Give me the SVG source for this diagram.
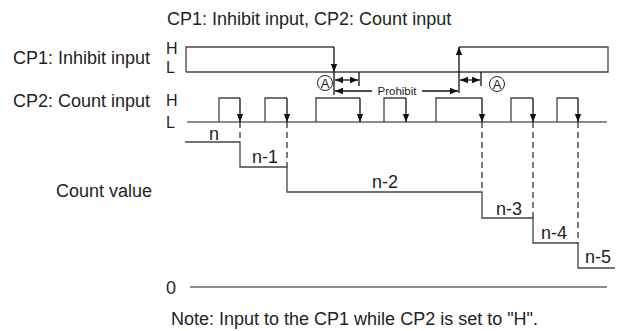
<svg xmlns="http://www.w3.org/2000/svg" width="619" height="331" viewBox="0 0 619 331">
<defs>
<marker id="ah" viewBox="0 0 10 10" refX="10" refY="5" markerWidth="8" markerHeight="8" markerUnits="userSpaceOnUse" orient="auto-start-reverse">
<path d="M0,1 L10,5 L0,9 Z" fill="#111"/>
</marker>
<style>
.t{font-family:"Liberation Sans",Arial,sans-serif;font-size:18px;fill:#222}
.hl{font-family:"Liberation Sans",Arial,sans-serif;font-size:16px;fill:#222}
.s{font-family:"Liberation Sans",Arial,sans-serif;font-size:11.5px;fill:#222}
.a{font-family:"Liberation Sans",Arial,sans-serif;font-size:13px;fill:#222}
.ln{fill:none;stroke:#444;stroke-width:1.3}
.g{fill:none;stroke:#666;stroke-width:1.3}
.ar{fill:none;stroke:#111;stroke-width:1.3}
.d{fill:none;stroke:#222;stroke-width:1.2;stroke-dasharray:6,4}
</style>
</defs>
<rect width="619" height="331" fill="#fff"/>
<g id="title"><text class="t" x="167" y="25">CP1: Inhibit input, CP2: Count input</text></g>
<g id="cp1">
<text class="t" x="13" y="64">CP1: Inhibit input</text>
<text class="hl" x="166" y="54">H</text>
<text class="hl" x="166" y="73">L</text>
<path class="ln" d="M186,72 V47 H334"/>
<path class="ln" d="M186,72 H608 V47 H459"/>
</g>
<g id="cp2">
<text class="t" x="13" y="107">CP2: Count input</text>
<text class="hl" x="166" y="106">H</text>
<text class="hl" x="166" y="128">L</text>
<path class="g" d="M187,122 H607"/>
<path class="ln" d="M219,122 V98 H240 M265,122 V98 H287 M316,122 V98 H360 M384,122 V98 H406 M436,122 V98 H482 M511,122 V98 H533 M557,122 V98 H578"/>
</g>
<g id="count">
<text class="t" x="56" y="197">Count value</text>
<path class="ln" d="M185,142 H240 V167 H287 V192 H482 V218 H533 V243 H578 V268 H615"/>
<text class="t" x="214" y="140" text-anchor="middle">n</text>
<text class="t" x="265" y="163" text-anchor="middle">n-1</text>
<text class="t" x="385" y="188" text-anchor="middle">n-2</text>
<text class="t" x="509" y="215" text-anchor="middle">n-3</text>
<text class="t" x="554" y="239" text-anchor="middle">n-4</text>
<text class="t" x="598" y="263" text-anchor="middle">n-5</text>
<text class="t" x="166" y="294">0</text>
<path class="g" d="M190,287 H607"/>
</g>
<g id="marks">
<circle cx="325" cy="83" r="7.5" fill="none" stroke="#222" stroke-width="1"/>
<text class="a" x="325" y="87.7" text-anchor="middle">A</text>
<circle cx="497" cy="84" r="7.5" fill="none" stroke="#222" stroke-width="1"/>
<text class="a" x="497" y="88.7" text-anchor="middle">A</text>
<text class="s" x="397" y="95" text-anchor="middle">Prohibit</text>
</g>
<g id="note"><text class="t" x="171" y="325">Note: Input to the CP1 while CP2 is set to "H".</text></g>
<g id="connectors">
<path class="ar" d="M334,47 V72" marker-end="url(#ah)"/>
<path class="ar" d="M334,72 V95"/>
<path class="ar" d="M459,93 V47" marker-end="url(#ah)"/>
<path class="ar" d="M359,72 V86 M481,72 V86"/>
<path class="ar" d="M335,80 H358" marker-start="url(#ah)" marker-end="url(#ah)"/>
<path class="ar" d="M460,80 H480" marker-start="url(#ah)" marker-end="url(#ah)"/>
<path class="ar" d="M372,91 H335" marker-end="url(#ah)"/>
<path class="ar" d="M422,91 H458" marker-end="url(#ah)"/>
<path class="ar" d="M240,98 V122" marker-end="url(#ah)"/>
<path class="ar" d="M287,98 V122" marker-end="url(#ah)"/>
<path class="ar" d="M360,98 V122" marker-end="url(#ah)"/>
<path class="ar" d="M406,98 V122" marker-end="url(#ah)"/>
<path class="ar" d="M482,98 V122" marker-end="url(#ah)"/>
<path class="ar" d="M533,98 V122" marker-end="url(#ah)"/>
<path class="ar" d="M578,98 V122" marker-end="url(#ah)"/>
<path class="d" d="M240,122 V142 M287,122 V167 M482,122 V192 M533,122 V218 M578,122 V243"/>
</g>
</svg>
